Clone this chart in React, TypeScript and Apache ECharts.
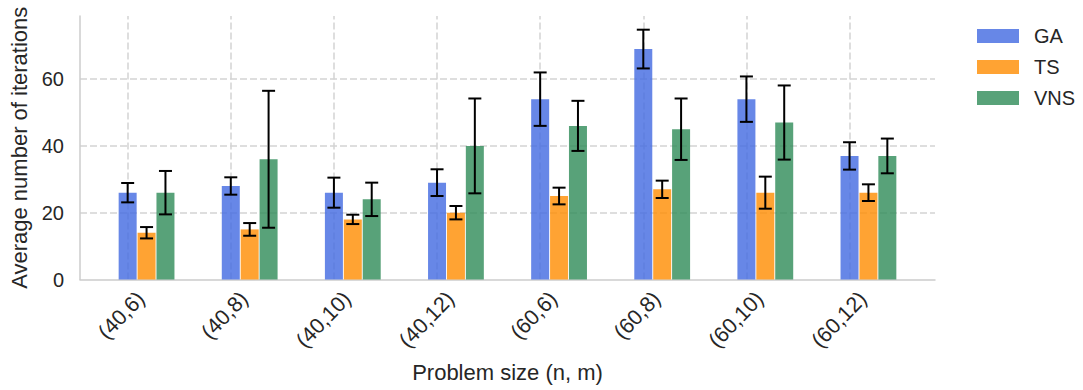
import React, { useEffect, useRef } from 'react';
import * as echarts from 'echarts';

const categories = ['(40,6)', '(40,8)', '(40,10)', '(40,12)', '(60,6)', '(60,8)', '(60,10)', '(60,12)'];
const seriesNames = ['GA', 'TS', 'VNS'];
const gaMean = [26, 28, 26, 29, 54, 69, 54, 37];
const gaErr = [2.9, 2.6, 4.5, 4.0, 8.0, 5.8, 6.8, 4.1];
const tsMean = [14, 15, 18, 20, 25, 27, 26, 26];
const tsErr = [1.7, 1.9, 1.4, 2.0, 2.5, 2.6, 4.8, 2.5];
const vnsMean = [26, 36, 24, 40, 46, 45, 47, 37];
const vnsErr = [6.5, 20.5, 5.0, 14.2, 7.5, 9.2, 11.1, 5.2];
const yTickStep = 20;
const yMax = 78.9;

const means = [gaMean, tsMean, vnsMean];
const errs = [gaErr, tsErr, vnsErr];
const colors = ['#4169E1', '#FF8C00', '#2E8B57'];

const FONT = '"Liberation Sans", Arial, sans-serif';
const TEXT = '#262626';
const GRIDC = '#d4d4d4';
const SPINE = '#cccccc';
const BAR_W = 18;
const BAR_GAP = 0.05;

export default function App() {
  const ref = useRef<HTMLDivElement>(null);
  useEffect(() => {
    if (!ref.current) return;
    const chart = echarts.init(ref.current, null, { renderer: 'svg' });
    const top = 16;
    const bottom = 110.5;

    const barSeries = seriesNames.map((name, k) => ({
      type: 'bar',
      name,
      xAxisIndex: 1,
      yAxisIndex: 1,
      data: means[k],
      barWidth: BAR_W,
      barGap: `${BAR_GAP * 100}%`,
      itemStyle: { color: colors[k], opacity: 0.8 },
      z: 2,
      ...(k === 0
        ? {
            markLine: {
              silent: true,
              symbol: 'none',
              z: 1,
              label: { show: false },
              lineStyle: { color: GRIDC, type: [7, 3], width: 1.5 },
              data: categories.map((c) => ({ xAxis: c })),
            },
          }
        : {}),
    }));

    const errSeries = seriesNames.map((name, k) => {
      const offset = (k - 1) * BAR_W * (1 + BAR_GAP);
      return {
        type: 'custom',
        name: name + ' err',
        xAxisIndex: 1,
        yAxisIndex: 1,
        z: 5,
        data: means[k].map((m, i) => [i, m - errs[k][i], m + errs[k][i]]),
        encode: { x: 0, y: [1, 2] },
        renderItem: (params: any, api: any) => {
          const i = api.value(0);
          const lo = api.coord([i, api.value(1)]);
          const hi = api.coord([i, api.value(2)]);
          const x = lo[0] + offset;
          const cap = 6.5;
          const style = { stroke: '#000000', lineWidth: 2, fill: 'none' };
          return {
            type: 'group',
            children: [
              { type: 'line', shape: { x1: x, y1: lo[1], x2: x, y2: hi[1] }, style },
              { type: 'line', shape: { x1: x - cap, y1: hi[1], x2: x + cap, y2: hi[1] }, style },
              { type: 'line', shape: { x1: x - cap, y1: lo[1], x2: x + cap, y2: lo[1] }, style },
            ],
          };
        },
      };
    });

    chart.setOption({
      animation: false,
      backgroundColor: '#ffffff',
      textStyle: { fontFamily: FONT },
      grid: [
        { left: 80, right: 148, top, bottom, outerBoundsMode: 'none' },
        { left: 95, right: 163, top, bottom, outerBoundsMode: 'none' },
      ],
      xAxis: [
        {
          type: 'value',
          gridIndex: 0,
          min: 0,
          max: 1,
          axisLine: { show: true, lineStyle: { color: SPINE, width: 1.5 } },
          axisTick: { show: false },
          axisLabel: { show: false },
          splitLine: { show: false },
        },
        {
          type: 'category',
          gridIndex: 1,
          data: categories,
          axisLine: { show: false },
          axisTick: { show: false },
          splitLine: { show: false },
          axisLabel: {
            rotate: 46,
            margin: 10,
            fontSize: 21.5,
            color: TEXT,
            fontFamily: FONT,
            interval: 0,
            padding: [0, 8, 0, 0],
          },
          name: 'Problem size (n, m)',
          nameLocation: 'middle',
          nameGap: 82,
          nameTextStyle: { fontSize: 22, color: TEXT, fontFamily: FONT },
        },
      ],
      yAxis: [
        {
          type: 'value',
          gridIndex: 0,
          min: 0,
          max: yMax,
          interval: yTickStep,
          axisLine: { show: true, lineStyle: { color: SPINE, width: 1.5 } },
          axisTick: { show: false },
          axisLabel: {
            fontSize: 20,
            color: TEXT,
            fontFamily: FONT,
            margin: 16,
            showMaxLabel: false,
            formatter: (v: number) => (v % yTickStep === 0 ? String(v) : ''),
          },
          splitLine: {
            show: true,
            showMinLine: false,
            showMaxLine: false,
            lineStyle: { color: GRIDC, type: [7, 3], width: 1.5 },
          },
          name: 'Average number of iterations',
          nameLocation: 'middle',
          nameGap: 46,
          nameTextStyle: { fontSize: 22, color: TEXT, fontFamily: FONT },
        },
        {
          type: 'value',
          gridIndex: 1,
          min: 0,
          max: yMax,
          interval: yTickStep,
          show: false,
          splitLine: { show: false },
        },
      ],
      legend: {
        data: seriesNames.map((n) => ({ name: n, itemStyle: { opacity: 0.8 } })),
        orient: 'vertical',
        left: 972,
        top: 21,
        itemWidth: 42,
        itemHeight: 14,
        itemGap: 11,
        icon: 'rect',
        itemStyle: { opacity: 0.8 },
        textStyle: { fontSize: 20, color: TEXT, fontFamily: FONT, padding: [0, 0, 0, 10] },
      },
      series: [...barSeries, ...errSeries],
    });
    return () => chart.dispose();
  }, []);

  return (
    <div
      ref={ref}
      style={{ position: 'fixed', left: 0, top: 0, width: 1083, height: 390, background: '#fff' }}
    />
  );
}
